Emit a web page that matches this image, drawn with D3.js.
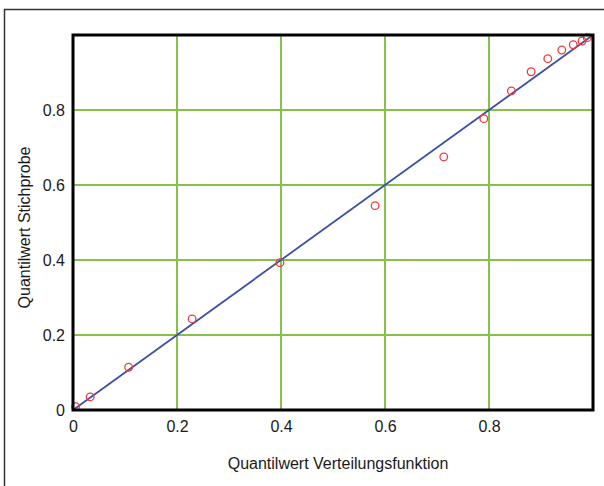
<!DOCTYPE html>
<html>
<head>
<meta charset="utf-8">
<script src="https://cdn.jsdelivr.net/npm/d3@7"></script>
<style>
  body { margin: 0; background: #fff; }
  text { font-family: "Liberation Sans", Arial, sans-serif; fill: #1a1a1a; }
</style>
</head>
<body>
<div id="chart"></div>
<script>
// theoretical quantiles (x) and sample quantiles (y)
const xQuant = [0.005, 0.033, 0.107, 0.229, 0.398, 0.581, 0.713, 0.790, 0.843, 0.881, 0.913, 0.940, 0.962, 0.979, 0.989];
const yQuant = [0.009, 0.035, 0.114, 0.243, 0.393, 0.545, 0.675, 0.777, 0.851, 0.902, 0.937, 0.960, 0.974, 0.984, 0.993];
const ticks = [0, 0.2, 0.4, 0.6, 0.8];
const xTitle = "Quantilwert Verteilungsfunktion";
const yTitle = "Quantilwert Stichprobe";

const width = 604, height = 486;
const margin = { top: 35, right: 11, bottom: 76, left: 73 };

const svg = d3.select("#chart").append("svg")
    .attr("width", width)
    .attr("height", height);

// outer frame (cut off at right and bottom)
svg.append("rect")
    .attr("x", 4.5).attr("y", 9.5)
    .attr("width", 620).attr("height", 500)
    .attr("fill", "none")
    .attr("stroke", "#333")
    .attr("stroke-width", 1.5);

const x = d3.scaleLinear().domain([0, 1]).range([margin.left, width - margin.right]);
const y = d3.scaleLinear().domain([0, 1]).range([height - margin.bottom, margin.top]);

// grid
svg.append("g")
    .selectAll("line.vx")
    .data(ticks.slice(1))
    .join("line")
    .attr("x1", d => x(d)).attr("x2", d => x(d))
    .attr("y1", y(0)).attr("y2", y(1))
    .attr("stroke", "#86c14a")
    .attr("stroke-width", 2);

svg.append("g")
    .selectAll("line.hy")
    .data(ticks.slice(1))
    .join("line")
    .attr("x1", x(0)).attr("x2", x(1))
    .attr("y1", d => y(d)).attr("y2", d => y(d))
    .attr("stroke", "#86c14a")
    .attr("stroke-width", 2);

// axes (labels only)
const fmt = d => d === 0 ? "0" : d3.format(".1f")(d);
const xAxis = d3.axisBottom(x).tickValues(ticks).tickSize(0).tickPadding(11).tickFormat(fmt);
const yAxis = d3.axisLeft(y).tickValues(ticks).tickSize(0).tickPadding(8).tickFormat(fmt);

svg.append("g")
    .attr("transform", `translate(0,${y(0)})`)
    .call(xAxis)
    .call(g => g.select(".domain").remove())
    .selectAll("text").style("font-size", "16px").attr("fill", "#1a1a1a");

svg.append("g")
    .attr("transform", `translate(${x(0)},0)`)
    .call(yAxis)
    .call(g => g.select(".domain").remove())
    .selectAll("text").style("font-size", "16px").attr("fill", "#1a1a1a");

// reference line
svg.append("line")
    .attr("x1", x(0)).attr("y1", y(0))
    .attr("x2", x(1)).attr("y2", y(1))
    .attr("stroke", "#3a50a6")
    .attr("stroke-width", 1.8);

// sample points
svg.append("g")
    .selectAll("circle")
    .data(xQuant.map((d, i) => [d, yQuant[i]]))
    .join("circle")
    .attr("cx", d => x(d[0]))
    .attr("cy", d => y(d[1]))
    .attr("r", 3.8)
    .attr("fill", "none")
    .attr("stroke", "#ee3b3b")
    .attr("stroke-width", 1.3);

// plot border
svg.append("rect")
    .attr("x", x(0)).attr("y", y(1))
    .attr("width", x(1) - x(0)).attr("height", y(0) - y(1))
    .attr("fill", "none")
    .attr("stroke", "#000")
    .attr("stroke-width", 3);

// titles
svg.append("text")
    .attr("x", (x(0) + x(1)) / 2 + 5)
    .attr("y", 469)
    .attr("text-anchor", "middle")
    .style("font-size", "16px")
    .text(xTitle);

svg.append("text")
    .attr("transform", `translate(30,${(y(0) + y(1)) / 2 + 5}) rotate(-90)`)
    .attr("text-anchor", "middle")
    .style("font-size", "16px")
    .text(yTitle);
</script>
</body>
</html>
